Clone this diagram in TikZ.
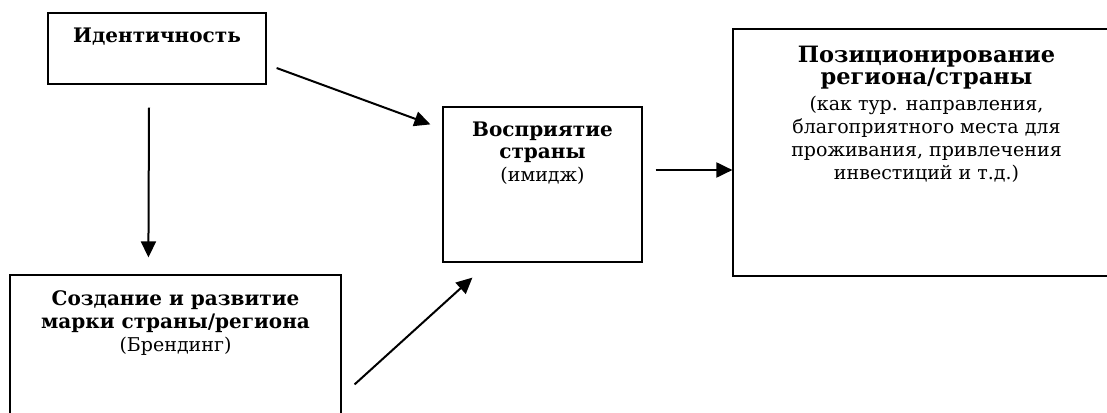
\documentclass[tikz,border=0pt]{standalone}
\usepackage{fontspec}
\setmainfont{DejaVu Serif}
\usetikzlibrary{positioning, arrows.meta, calc}

\newcommand{\headfont}{\fontsize{20}{23}\selectfont\bfseries}
\newcommand{\bigheadfont}{\fontsize{22.5}{23}\selectfont\bfseries}

\begin{document}
\begin{tikzpicture}[
        x=1pt, y=-1pt,
        box/.style={
            rectangle,
            draw,
            line width=1.2pt,
            inner sep=0pt
        },
        txt/.style={
            align=center,
            inner sep=0pt,
            anchor=north,
            font=\fontsize{19}{23}\selectfont
        },
        arrow/.style={
            -{Triangle[length=16pt, width=15pt]},
            line width=2pt
        }
    ]

    \useasboundingbox (0,0) rectangle (1107,412);
    \clip (0,0) rectangle (1107,412);

    % --------------------------------------------------------
    % Boxes
    % --------------------------------------------------------

    \node[box, minimum width=218pt, minimum height=71pt] (ident)
        at (157,48.5) {};

    \node[box, minimum width=199pt, minimum height=155pt] (vosp)
        at (542.5,184.5) {};

    \node[box, minimum width=387pt, minimum height=247pt] (pozic)
        at (926.5,152.5) {};

    \node[box, minimum width=331pt, minimum height=165pt] (brand)
        at (175.5,357.5) {};

    % --------------------------------------------------------
    % Texts
    % --------------------------------------------------------

    \node[txt, below=15pt of ident.north] (identtxt)
        {{\headfont Идентичность}};

    \node[txt, below=15pt of vosp.north] (vosptxt)
        {{\headfont Восприятие}\\[-0.7pt]
        {\headfont страны}\\
        (имидж)};

    \node[txt, below=17.5pt of pozic.north] (pozictxt)
        {{\bigheadfont Позиционирование}\\[-1pt]
        {\bigheadfont региона/страны}\\[2.7pt]
        (как тур. направления,\\
        благоприятного места для\\
        проживания, привлечения\\
        инвестиций и т.д.)};

    \node[txt, below=16.5pt of brand.north] (brandtxt)
        {{\headfont Создание и развитие}\\[-0.7pt]
        {\headfont марки страны/региона}\\
        (Брендинг)};

    % --------------------------------------------------------
    % Arrows
    % --------------------------------------------------------

    % Identity -> perception
    \draw[arrow]
        ($(ident.east)+(10,19.5)$)
        -- ($(vosp.north west)+(-12,18)$);

    % Identity -> branding
    \draw[arrow]
        ($(ident.south)+(-8,23)$)
        -- ($(brand.north west)+(139,-17)$);

    % Branding -> perception
    \draw[arrow]
        ($(brand.north east)+(13,110)$)
        -- ($(vosp.south west)+(30,15)$);

    % Perception -> positioning
    \coordinate (vospOut)
        at ($(vosp.east)+(13,-14.5)$);

    \draw[arrow]
        (vospOut)
        -- (vospOut -| pozic.west);

\end{tikzpicture}
\end{document}
